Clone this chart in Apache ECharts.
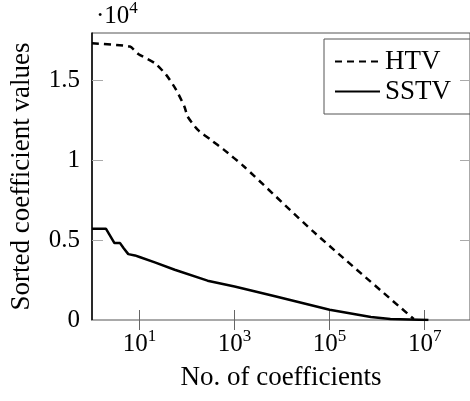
<!DOCTYPE html>
<html>
<head>
<meta charset="utf-8">
<script src="https://cdn.jsdelivr.net/npm/echarts@6/dist/echarts.min.js"></script>
<style>
html, body { margin: 0; padding: 0; background: #fff; }
#chart { width: 470px; height: 401px; }
</style>
</head>
<body>
<div id="chart"></div>
<script>
// data
var htvX = [1, 6.3, 9.4, 21, 36.5, 59, 88, 103, 167, 316, 600, 1580, 45000, 5.9e6];
var htvY = [17310, 17100, 16640, 16060, 15330, 14400, 13350, 12720, 11900, 11270, 10640, 9600, 5540, 60];

var sstvX = [1, 1.96, 2.97, 3.9, 4.6, 5.8, 8, 10, 21, 55, 270, 1000, 7100, 1e5, 7.4e5, 1.9e6, 1.2e7];
var sstvY = [5710, 5710, 4810, 4810, 4500, 4120, 4040, 3940, 3600, 3140, 2460, 2100, 1480, 640, 190, 60, 0];

var xTicks = [10, 1000, 1e5, 1e7];
var yTicks = [0, 5000, 10000, 15000];

var serif = 'Liberation Serif';

function pairs(xs, ys) {
    var out = [];
    for (var i = 0; i < xs.length; i++) {
        out.push([xs[i], ys[i]]);
    }
    return out;
}

// 10^n labels
var powRich = {
    b: { fontFamily: serif, fontSize: 25, fontWeight: 'normal', color: '#000' },
    s: { fontFamily: serif, fontSize: 17, fontWeight: 'normal', color: '#000', padding: [0, 0, 16, 0] }
};

var chart = echarts.init(document.getElementById('chart'), null, { renderer: 'canvas' });

var option = {
    animation: false,
    title: {
        text: '{b|·10}{s|4}',
        left: 96,
        top: 0,
        padding: 0,
        textStyle: { fontWeight: 'normal', rich: powRich }
    },
    legend: {
        orient: 'vertical',
        left: 324,
        top: 39,
        padding: [9, 22, 9, 10],
        itemWidth: 45,
        itemHeight: 14,
        itemGap: 3,
        borderColor: '#555',
        borderWidth: 1,
        itemStyle: { opacity: 0 },
        textStyle: { fontFamily: serif, fontSize: 27, color: '#000' },
        data: ['HTV', 'SSTV']
    },
    grid: {
        left: 88,
        top: 33,
        right: 0,
        bottom: 81,
        show: true,
        borderColor: '#555',
        borderWidth: 1
    },
    xAxis: [{
        type: 'log',
        min: 1,
        max: 9e7,
        name: 'No. of coefficients',
        nameLocation: 'middle',
        nameGap: 44,
        nameTextStyle: { fontFamily: serif, fontSize: 27, color: '#000' },
        axisLine: { show: false },
        splitLine: { show: false },
        minorTick: { show: false },
        axisTick: { inside: true, length: 10, customValues: xTicks, lineStyle: { color: '#666', width: 1 } },
        axisLabel: {
            margin: 8,
            customValues: xTicks,
            formatter: function (v) {
                return '{b|10}{s|' + Math.round(Math.log10(v)) + '}';
            },
            rich: powRich
        }
    }, {
        type: 'log',
        position: 'top',
        min: 1,
        max: 9e7,
        axisLine: { show: false },
        splitLine: { show: false },
        axisTick: { inside: true, length: 10, customValues: xTicks, lineStyle: { color: '#666', width: 1 } },
        axisLabel: { show: false }
    }],
    yAxis: [{
        type: 'value',
        min: 0,
        max: 17950,
        interval: 5000,
        name: 'Sorted coefficient values',
        nameLocation: 'middle',
        nameGap: 57,
        nameTextStyle: { fontFamily: serif, fontSize: 27, color: '#000' },
        axisLine: { show: true, lineStyle: { color: '#000', width: 1.5 } },
        splitLine: { show: false },
        axisTick: { inside: true, length: 11, customValues: yTicks, lineStyle: { color: '#aaa', width: 1 } },
        axisLabel: {
            margin: 12,
            customValues: yTicks,
            fontFamily: serif,
            fontSize: 25,
            color: '#000',
            formatter: function (v) {
                return String(v / 10000);
            }
        }
    }, {
        type: 'value',
        position: 'right',
        min: 0,
        max: 17950,
        interval: 5000,
        axisLine: { show: false },
        splitLine: { show: false },
        axisTick: { inside: true, length: 10, customValues: yTicks, lineStyle: { color: '#aaa', width: 1 } },
        axisLabel: { show: false }
    }],
    series: [{
        name: 'HTV',
        type: 'line',
        xAxisIndex: 0,
        yAxisIndex: 0,
        symbol: 'none',
        smooth: 0.2,
        lineStyle: { color: '#000', width: 2.5, type: [7, 5] },
        itemStyle: { color: '#000' },
        data: pairs(htvX, htvY)
    }, {
        name: 'SSTV',
        type: 'line',
        xAxisIndex: 0,
        yAxisIndex: 0,
        symbol: 'none',
        lineStyle: { color: '#000', width: 2.5 },
        itemStyle: { color: '#000' },
        data: pairs(sstvX, sstvY)
    }]
};

chart.setOption(option);
</script>
</body>
</html>
